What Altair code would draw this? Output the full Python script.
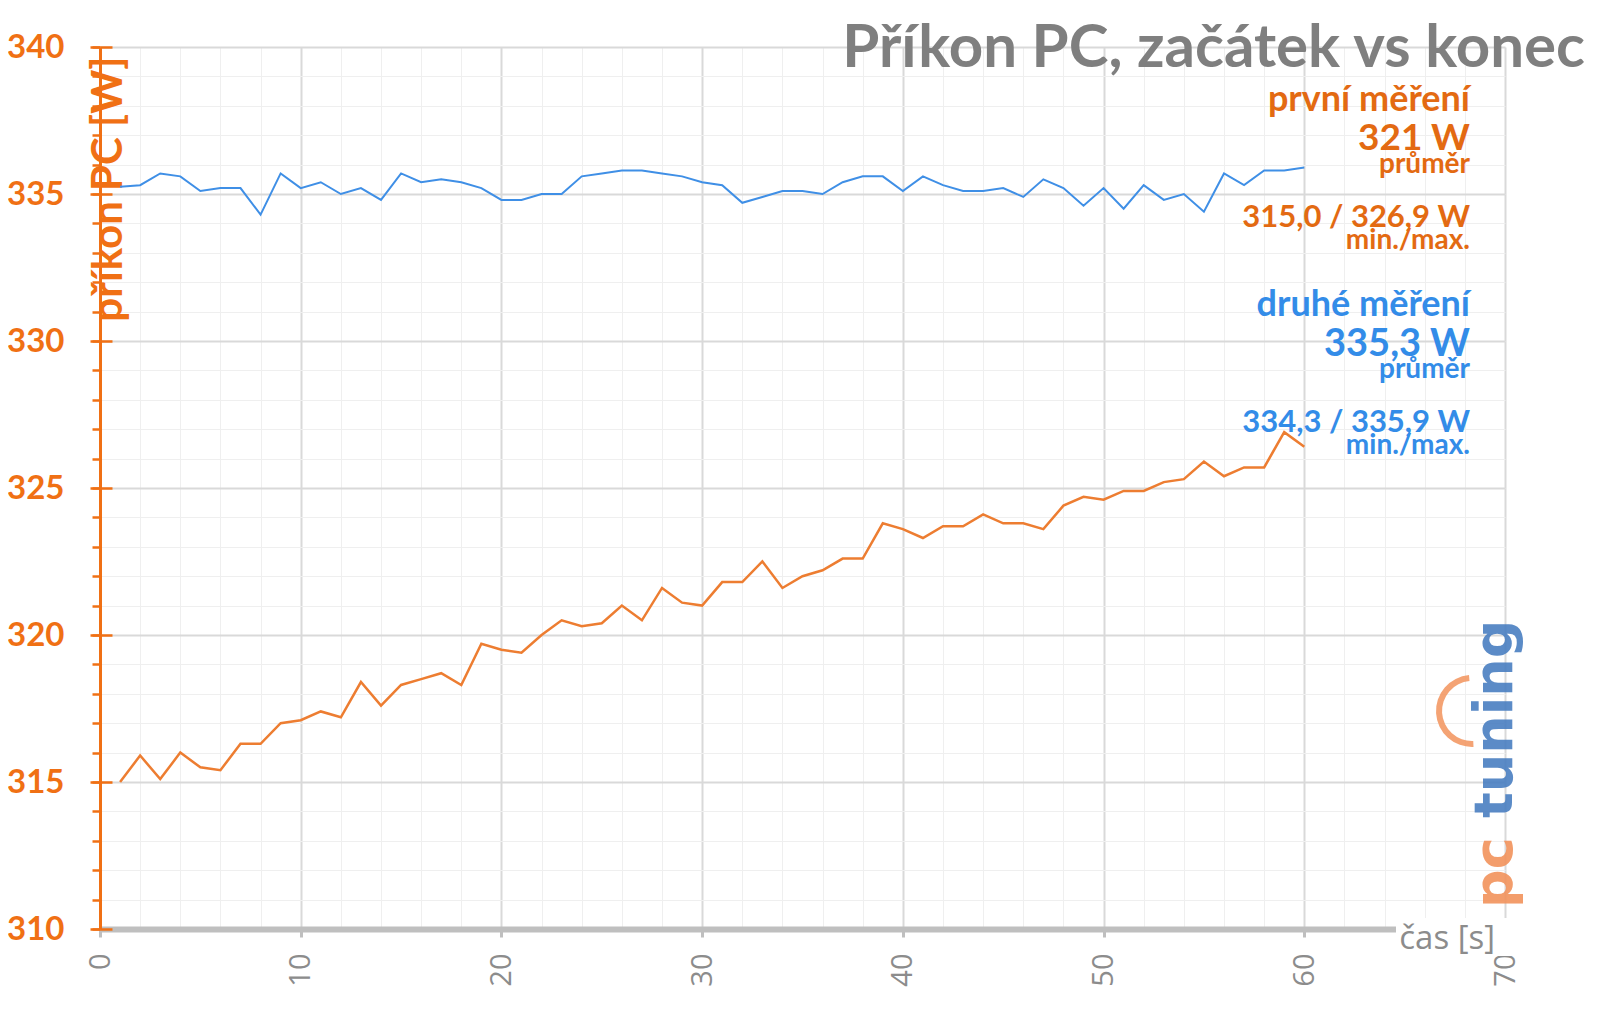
import altair as alt
import pandas as pd

# ---- data ----
cas = list(range(1, 61))
prvni_mereni = [315.0, 315.9, 315.1, 316.0, 315.5, 315.4, 316.3, 316.3, 317.0, 317.1,
                317.4, 317.2, 318.4, 317.6, 318.3, 318.5, 318.7, 318.3, 319.7, 319.5,
                319.4, 320.0, 320.5, 320.3, 320.4, 321.0, 320.5, 321.6, 321.1, 321.0,
                321.8, 321.8, 322.5, 321.6, 322.0, 322.2, 322.6, 322.6, 323.8, 323.6,
                323.3, 323.7, 323.7, 324.1, 323.8, 323.8, 323.6, 324.4, 324.7, 324.6,
                324.9, 324.9, 325.2, 325.3, 325.9, 325.4, 325.7, 325.7, 326.9, 326.4]
druhe_mereni = [335.25, 335.3, 335.7, 335.6, 335.1, 335.2, 335.2, 334.3, 335.7, 335.2,
                335.4, 335.0, 335.2, 334.8, 335.7, 335.4, 335.5, 335.4, 335.2, 334.8,
                334.8, 335.0, 335.0, 335.6, 335.7, 335.8, 335.8, 335.7, 335.6, 335.4,
                335.3, 334.7, 334.9, 335.1, 335.1, 335.0, 335.4, 335.6, 335.6, 335.1,
                335.6, 335.3, 335.1, 335.1, 335.2, 334.9, 335.5, 335.2, 334.6, 335.2,
                334.5, 335.3, 334.8, 335.0, 334.4, 335.7, 335.3, 335.8, 335.8, 335.9]

x_major = [0, 10, 20, 30, 40, 50, 60, 70]
x_minor = list(range(0, 71, 2))
y_major = [310, 315, 320, 325, 330, 335, 340]
y_minor = list(range(310, 341))

title_text = "Příkon PC, začátek vs konec"
y_title = "příkon PC [W]"
x_title = "čas [s]"
ann_prvni = ["první měření", "321 W", "průměr", "315,0 / 326,9 W", "min./max."]
ann_druhe = ["druhé měření", "335,3 W", "průměr", "334,3 / 335,9 W", "min./max."]

# ---- style ----
FONT = "Lato"
ORANGE_AX = "#F07014"
ORANGE_TXT = "#E36A12"
ORANGE_LINE = "#ED7D31"
BLUE_LINE = "#3F8FE6"
BLUE_TXT = "#338CE8"
GRAY_TXT = "#8C8C8C"
GRID_MAJOR = "#D9D9D9"
GRID_MINOR = "#EFEFEF"

df = pd.DataFrame({"t": cas, "prvni": prvni_mereni, "druhe": druhe_mereni})
one = pd.DataFrame({"a": [0]})

xscale = alt.Scale(domain=[0, 70], nice=False, zero=False)
yscale = alt.Scale(domain=[310, 340], nice=False, zero=False)

base = alt.Chart(df)

minor_layer = base.mark_line(color=ORANGE_LINE, strokeWidth=2.5).encode(
    x=alt.X("t:Q", scale=xscale,
            axis=alt.Axis(values=x_minor, orient="bottom", grid=True, gridColor=GRID_MINOR,
                          gridWidth=1, labels=False, ticks=False, domain=False, title=None)),
    y=alt.Y("prvni:Q", scale=yscale,
            axis=alt.Axis(values=y_minor, orient="left", grid=True, gridColor=GRID_MINOR,
                          gridWidth=1, labels=False, ticks=True, tickSize=8,
                          tickColor=ORANGE_AX, tickWidth=2.5, domain=False, title=None)),
)

major_layer = base.mark_line(color=BLUE_LINE, strokeWidth=2).encode(
    x=alt.X("t:Q", scale=xscale,
            axis=alt.Axis(values=x_major, orient="bottom", grid=True, gridColor=GRID_MAJOR,
                          gridWidth=2, labels=True, labelAngle=270, labelFont="Open Sans",
                          labelFontSize=29, labelColor=GRAY_TXT, labelPadding=16,
                          ticks=True, tickSize=8, tickColor="#BFBFBF", tickWidth=3,
                          domain=True, domainColor="#BFBFBF", domainWidth=6, title=None)),
    y=alt.Y("druhe:Q", scale=yscale,
            axis=alt.Axis(values=y_major, orient="left", grid=True, gridColor=GRID_MAJOR,
                          gridWidth=2, labels=True, labelFont=FONT, labelFontSize=33,
                          labelFontWeight="bold", labelColor=ORANGE_AX, labelPadding=26,
                          ticks=True, tickSize=10, tickColor=ORANGE_AX, tickWidth=2.5,
                          domain=True, domainColor=ORANGE_AX, domainWidth=3,
                          title=y_title, titleFont=FONT, titleFontSize=42,
                          titleFontWeight="bold", titleColor=ORANGE_AX, titleAngle=270,
                          titleAlign="right", titleBaseline="alphabetic",
                          titleX=21, titleY=9)),
)

cross_layer = base.mark_line(opacity=0).encode(
    x=alt.X("t:Q", scale=xscale, axis=None),
    y=alt.Y("prvni:Q", scale=yscale,
            axis=alt.Axis(values=y_major, orient="left", grid=False, labels=False,
                          domain=False, ticks=True, tickSize=12, tickColor=ORANGE_AX,
                          tickWidth=2.5, offset=-12, title=None)),
)

# white box behind the x axis title
box = alt.Chart(one).mark_rect(color="white").encode(
    x=alt.value(1296), x2=alt.value(1412), y=alt.value(871), y2=alt.value(909)
)


def txt(s, x, y, size, color, weight="bold", font=FONT, align="right", angle=0, opacity=1.0):
    return alt.Chart(one).mark_text(
        text=s, font=font, fontSize=size, fontWeight=weight, color=color,
        align=align, baseline="alphabetic", angle=angle, opacity=opacity
    ).encode(x=alt.value(x), y=alt.value(y))


AX = 1370
texts = [
    txt(x_title, 1395, 902, 33, GRAY_TXT, weight="normal", font="Open Sans"),
    txt(title_text, 1485, 20, 60, "#7F7F7F"),
    txt(ann_prvni[0], AX, 64, 36, ORANGE_TXT),
    txt(ann_prvni[1], AX, 103, 37, ORANGE_TXT),
    txt(ann_prvni[2], AX, 126, 28, ORANGE_TXT),
    txt(ann_prvni[3], AX, 180, 31, ORANGE_TXT),
    txt(ann_prvni[4], AX, 202, 28, ORANGE_TXT),
    txt(ann_druhe[0], AX, 269, 36, BLUE_TXT),
    txt(ann_druhe[1], AX, 309, 38, BLUE_TXT),
    txt(ann_druhe[2], AX, 331, 28, BLUE_TXT),
    txt(ann_druhe[3], AX, 385, 31, BLUE_TXT),
    txt(ann_druhe[4], AX, 407, 28, BLUE_TXT),
]

# watermark logo
logo_arc = alt.Chart(one).mark_arc(
    radius=36, radius2=30, theta=3.1, theta2=6.2, color="#F2935C", opacity=0.85
).encode(x=alt.value(1372), y=alt.value(664))
logo = [
    logo_arc,
    txt("pc", 1412, 861, 54, "#F2935C", font="DejaVu Sans", align="left", angle=270, opacity=0.9),
    txt("tuning", 1412, 771, 54, "#4A7FC1", font="DejaVu Sans", align="left", angle=270, opacity=0.9),
]

chart = alt.layer(
    minor_layer, major_layer, cross_layer, box, *texts, *logo
).resolve_axis(
    x="independent", y="independent"
).properties(
    width=1405, height=882,
    autosize=alt.AutoSizeParams(type="none"),
    padding={"left": 92, "top": 39, "right": 87, "bottom": 76},
    background="white",
).configure_view(stroke=None)

chart.save("out.html", embed_options={"renderer": "svg", "actions": False})
